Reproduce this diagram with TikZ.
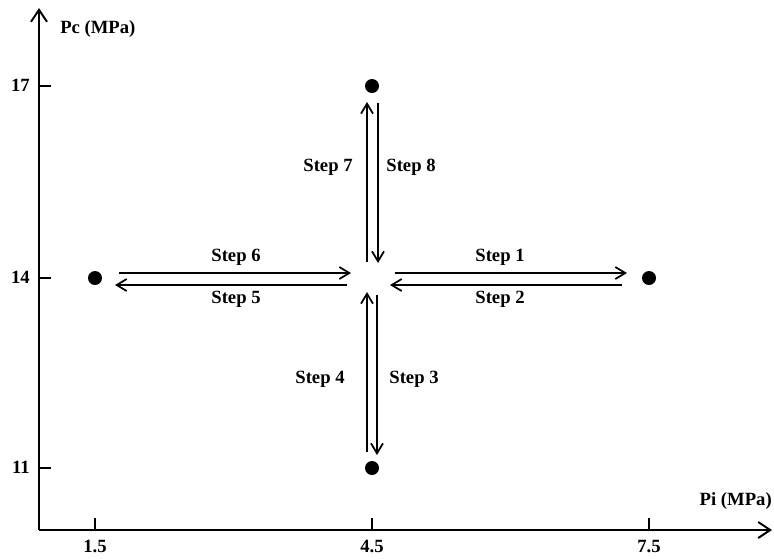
\documentclass[tikz,border=0pt]{standalone}
\usepackage{fontspec}
\setmainfont{Liberation Serif}
\usetikzlibrary{arrows.meta,calc}

\begin{document}
\begin{tikzpicture}[x=0.75pt,y=-0.75pt,>={Straight Barb[length=7.5pt,width=9pt]},
  dot/.style={circle,fill=black,inner sep=0pt,minimum size=10.5pt},
  stepline/.style={->,line width=1.3pt},
  lbl/.style={font=\fontsize{14}{16}\selectfont\bfseries,inner sep=0pt}]
  \useasboundingbox (0,0) rectangle (774,558);
  \coordinate (o) at (39,530);
  \coordinate (ytop) at (39,8);
  \coordinate (xend) at (772,530);
  \coordinate (c) at (372,278);
  \draw[line width=1.5pt,-{Straight Barb[length=9pt,width=12pt]}] (o) -- (ytop);
  \draw[line width=1.5pt,-{Straight Barb[length=9pt,width=12pt]}] (o) -- (xend);
  \node[lbl,anchor=base west] (yname) at (60,33) {Pc (MPa)};
  \node[lbl,anchor=base east] (xname) at (772,505) {Pi (MPa)};
  \foreach \v/\y in {17/86,14/278,11/468} {
    \draw[line width=1.5pt] (39,\y) -- ++(12,0);
    \node[lbl,anchor=base east] (ty\v) at (30,\y+5) {\v};
  }
  \foreach \v/\x in {1.5/95,4.5/372,7.5/649} {
    \draw[line width=1.5pt] (\x,530) -- ++(0,-12);
    \node[lbl,anchor=base] (tx\x) at (\x,552) {\v};
  }
  \node[dot] (pl) at (95,278) {};
  \node[dot] (pr) at (649,278) {};
  \node[dot] (pt) at (372,86) {};
  \node[dot] (pb) at (372,468) {};
  \draw[stepline] ($(c)+(23,-5)$) -- ($(pr)+(-22,-5)$);
  \draw[stepline] ($(pr)+(-27,7)$) -- ($(c)+(18,7)$);
  \draw[stepline] ($(pl)+(24,-5)$) -- ($(c)+(-21,-5)$);
  \draw[stepline] ($(c)+(-25,7)$) -- ($(pl)+(20,7)$);
  \draw[stepline] ($(c)+(-5,-16)$) -- ($(pt)+(-5,16)$);
  \draw[stepline] ($(pt)+(6,17)$) -- ($(c)+(6,-15)$);
  \draw[stepline] ($(pb)+(-5,-16)$) -- ($(c)+(-5,14)$);
  \draw[stepline] ($(c)+(5,17)$) -- ($(pb)+(5,-13)$);
  \node[lbl,anchor=base] (s1) at (500,261) {Step 1};
  \node[lbl,anchor=base] (s2) at (500,303) {Step 2};
  \node[lbl,anchor=base] (s3) at (414,383) {Step 3};
  \node[lbl,anchor=base] (s4) at (320,383) {Step 4};
  \node[lbl,anchor=base] (s5) at (236,303) {Step 5};
  \node[lbl,anchor=base] (s6) at (236,261) {Step 6};
  \node[lbl,anchor=base] (s7) at (328,171) {Step 7};
  \node[lbl,anchor=base] (s8) at (411,171) {Step 8};
\end{tikzpicture}
\end{document}
